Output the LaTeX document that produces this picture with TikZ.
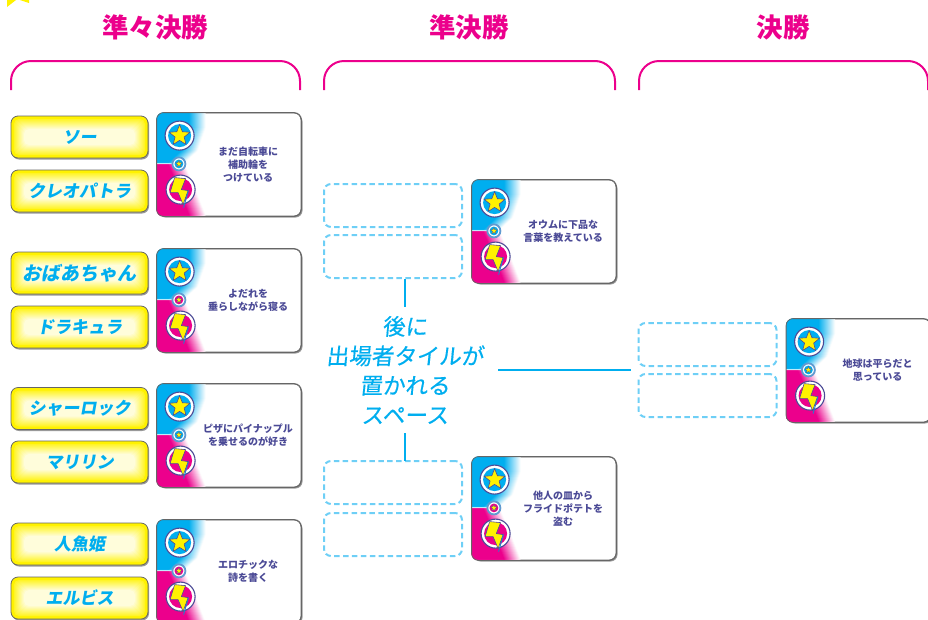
\documentclass[tikz,border=0pt]{standalone}
\usepackage{fontspec}
\usepackage{xcolor}
\usetikzlibrary{shapes.geometric,shadows}
\setmainfont{Noto Sans CJK JP}
\newfontfamily\namefont[FakeSlant=0.18]{Noto Sans CJK JP}
\newfontfamily\spacefont[FakeSlant=0.1,FakeBold=0.4]{Noto Sans CJK JP}
\definecolor{tcyan}{HTML}{00AEEF}
\definecolor{tmagenta}{HTML}{EC008C}
\definecolor{tyellow}{HTML}{FFF200}
\definecolor{tindigo}{HTML}{4B4A96}
\definecolor{tdash}{HTML}{6ECFF6}
\tikzset{
    roundtitle/.style = {text=tmagenta, font=\fontsize{26.5}{28}\selectfont\bfseries, inner sep=0pt},
    bracket/.style = {draw=tmagenta, line width=2pt, rounded corners=20pt},
    nametile/.style = {rectangle, rounded corners=7pt, minimum width=137pt, minimum height=42pt, inner sep=0pt, draw=black!60, line width=0.8pt, fill=tyellow, text=tcyan, font=\namefont\fontsize{17}{19}\selectfont\bfseries,
        drop shadow={shadow xshift=1pt, shadow yshift=-1.5pt, fill=black!50, opacity=0.8},
        path picture={\foreach \i in {3,4,...,13} {\fill[rounded corners=5pt, tyellow!\the\numexpr 105-\i*7\relax!white] ([xshift=\i pt,yshift=-\i pt]path picture bounding box.north west) rectangle ([xshift=-\i pt,yshift=\i pt]path picture bounding box.south east);}}},
    emptyslot/.style = {rectangle, rounded corners=7pt, minimum width=138pt, minimum height=43pt, draw=tdash, line width=2pt, dash pattern=on 5.5pt off 3.4pt},
    playercard/.style = {rectangle, rounded corners=7pt, minimum width=144pt, minimum height=103pt, inner sep=0pt, draw=black!60, line width=0.8pt, fill=white,
        drop shadow={shadow xshift=1.5pt, shadow yshift=-1.5pt, fill=black!50, opacity=0.8}},
    cardtext/.style = {text=tindigo, font=\fontsize{10}{13}\selectfont\bfseries, align=center, inner sep=0pt},
    spacelabel/.style = {text=tcyan, font=\spacefont\fontsize{22.5}{29.5}\selectfont, align=center, inner sep=0pt, minimum width=186pt, minimum height=126pt},
    line/.style = {draw=tcyan, line width=2.2pt},
    bigring/.style = {circle, minimum size=29pt, inner sep=0pt, draw=tindigo, line width=1.1pt, fill=white},
    midring/.style = {circle, minimum size=13pt, inner sep=0pt, draw=tdash!60!tindigo, line width=1.8pt, fill=white},
    starmark/.style = {star, star points=5, star point ratio=2.3, inner sep=0pt, fill=tyellow, draw=tindigo, line width=0.6pt}
}
% #1 name, #2 position, #3 colour of the small mark, #4 text
\newcommand{\tilecard}[4]{
    \node (#1) [playercard] at (#2) {};
    \begin{scope}
        \clip[rounded corners=7pt] (#1.north west) rectangle (#1.south east);
        \begin{scope}[shift={(#1.north west)}]
            \fill[tcyan!25] (0,50) rectangle (20,52);
            \foreach \i in {16,15,...,0} {
                \fill[tcyan!\the\numexpr 100-\i*6\relax!white] (0,0) -- (33+\i,0) -- (33+\i,15) -- (25+\i,38) -- (12+\i,50) -- (0,50) -- cycle;
                \fill[tmagenta!\the\numexpr 100-\i*6\relax!white] (0,52) -- (12+\i,52) -- (22+\i,75) -- (33+\i,103) -- (0,103) -- cycle;}
        \end{scope}
    \end{scope}
    \draw[draw=black!60, line width=0.8pt, rounded corners=7pt] (#1.north west) rectangle (#1.south east);
    \begin{scope}[shift={(#1.north west)}]
        \node (#1-star) [bigring] at (23,23) {};
        \fill[tcyan] (23,23) circle (11.5);
        \node [starmark, minimum size=22pt] at (23,23) {};
        \node (#1-mid) [midring] at (22.3,51.3) {};
        \fill[#3] (22.3,51.3) circle (4.4);
        \node [starmark, minimum size=7pt, line width=0.3pt] at (22.3,51.3) {};
        \node (#1-bolt) [bigring] at (24,77) {};
        \fill[tmagenta] (24,77) circle (11.5);
        \fill[tyellow, draw=tindigo, line width=0.6pt, line join=round] (18,65) -- (13.5,80) -- (21.5,80) -- (26.5,92) -- (31.5,78) -- (24.7,77) -- (29,66) -- cycle;
        \draw[tcyan!60!tindigo, line width=0.9pt] (31.8,78) -- (27,95);
    \end{scope}
    \node (#1-text) [cardtext] at ([xshift=19pt]#1.center) {#4};
}
\begin{document}
\begin{tikzpicture}[x=1pt,y=-1pt]
\useasboundingbox (0,0) rectangle (928,619);
\fill[tyellow] (7,0) -- (7,7) -- (16,0) -- cycle;
\fill[tyellow] (20,0) -- (29,3) -- (29,0) -- cycle;

\node (quarter) [roundtitle] at (155,27) {準々決勝};
\node (semi) [roundtitle] at (469,27) {準決勝};
\node (final) [roundtitle] at (783,27) {決勝};
\draw [bracket] (11,90) -- (11,61) -- (300,61) -- (300,90);
\draw [bracket] (324,90) -- (324,61) -- (615,61) -- (615,90);
\draw [bracket] (639,90) -- (639,61) -- (928,61) -- (928,90);

\node (soo) [nametile] at (79.5,137) {ソー};
\node (cleo) [nametile] at (79.5,191) {クレオパトラ};
\node (granny) [nametile, font=\namefont\fontsize{19}{21}\selectfont\bfseries] at (79.5,273) {おばあちゃん};
\node (dracula) [nametile] at (79.5,327) {ドラキュラ};
\node (sherlock) [nametile] at (79.5,408.5) {シャーロック};
\node (marilyn) [nametile] at (79.5,462) {マリリン};
\node (mermaid) [nametile] at (79.5,544) {人魚姫};
\node (elvis) [nametile] at (79.5,598) {エルビス};

\tilecard{wheels}{229,164.5}{tcyan}{まだ自転車に\\補助輪を\\つけている}
\tilecard{drool}{229,300.5}{tmagenta}{よだれを\\垂らしながら寝る}
\tilecard{pizza}{229,435.5}{tcyan}{ピザにパイナップル\\を乗せるのが好き}
\tilecard{poem}{229,571.5}{tmagenta}{エロチックな\\詩を書く}
\tilecard{parrot}{544,231.5}{tcyan}{オウムに下品な\\言葉を教えている}
\tilecard{fries}{544,508.5}{tmagenta}{他人の皿から\\フライドポテトを\\盗む}
\tilecard{earth}{858.5,370.5}{tcyan}{地球は平らだと\\思っている}

\node (slota) [emptyslot] at (393,205.5) {};
\node (slotb) [emptyslot] at (393,256.5) {};
\node (slotc) [emptyslot] at (393,482.5) {};
\node (slotd) [emptyslot] at (393,534.5) {};
\node (slote) [emptyslot] at (707.5,344.5) {};
\node (slotf) [emptyslot] at (707.5,395.5) {};

\node (later) [spacelabel] at (405,370) {後に\\出場者タイルが\\置かれる\\スペース};
\coordinate (finalin) at (631,370);

\draw [line] (405,279) -- (later.north);
\draw [line] (later.south) -- (405,461);
\draw [line] (later.east) -- (finalin);
\end{tikzpicture}
\end{document}
